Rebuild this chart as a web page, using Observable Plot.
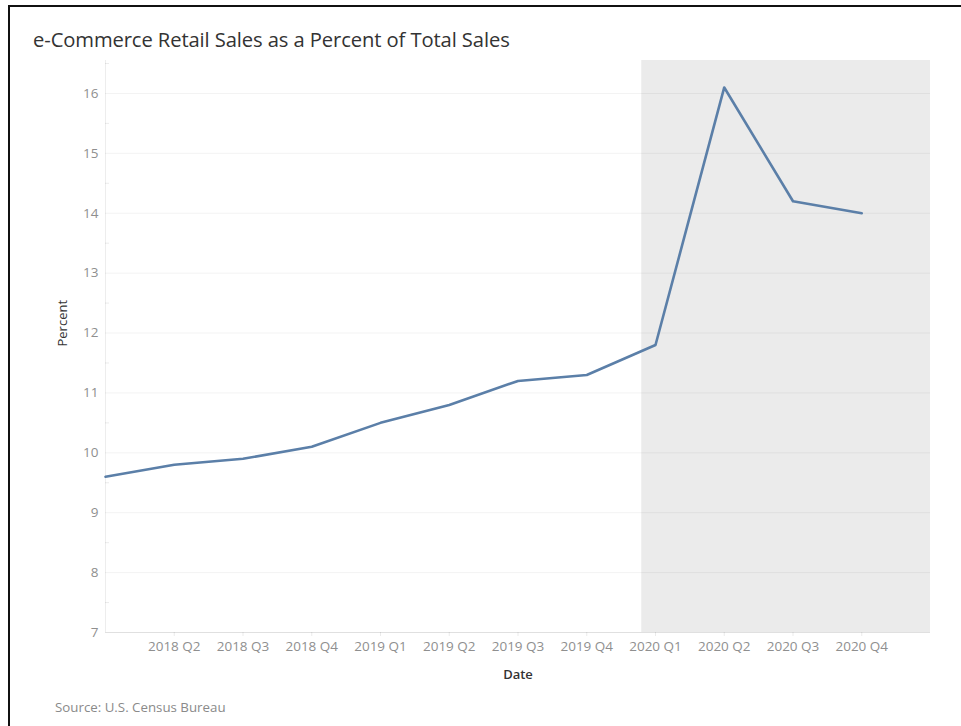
<!DOCTYPE html>
<html>
<head>
<meta charset="utf-8">
<script src="https://cdn.jsdelivr.net/npm/d3@7"></script>
<script src="https://cdn.jsdelivr.net/npm/@observablehq/plot@0.6"></script>
<style>
  html, body { margin: 0; padding: 0; background: #fff; }
  #page { position: relative; width: 961px; height: 726px; overflow: hidden; font-family: "Open Sans", Lato, sans-serif; }
  #frame { position: absolute; left: 8px; top: 5px; width: 960px; height: 730px; border-top: 2px solid #111; border-left: 2px solid #111; box-sizing: border-box; }
  #title { position: absolute; left: 33px; top: 25px; margin: 0; font-size: 20.2px; font-weight: 400; color: #333; white-space: nowrap; letter-spacing: -0.1px; }
  #chart { position: absolute; left: 0; top: 50px; }
  #source { position: absolute; left: 55px; top: 698px; font-size: 13.3px; color: #8a8a8a; }
</style>
</head>
<body>
<div id="page">
  <div id="frame"></div>
  <h2 id="title">e-Commerce Retail Sales as a Percent of Total Sales</h2>
  <div id="chart"></div>
  <div id="source">Source: U.S. Census Bureau</div>
</div>
<script>
// Quarter labels (index 0 = 2018 Q1 sits on the left edge, unlabeled in the original)
const quarters = ["2018 Q1", "2018 Q2", "2018 Q3", "2018 Q4", "2019 Q1", "2019 Q2", "2019 Q3", "2019 Q4", "2020 Q1", "2020 Q2", "2020 Q3", "2020 Q4"];
// e-Commerce share of total retail sales, percent
const percent = [9.6, 9.8, 9.9, 10.1, 10.5, 10.8, 11.2, 11.3, 11.8, 16.1, 14.2, 14.0];
// Labeled x ticks (quarter indices)
const xTickIndex = [1, 2, 3, 4, 5, 6, 7, 8, 9, 10, 11];
// Y ticks
const yTicks = [7, 8, 9, 10, 11, 12, 13, 14, 15, 16];
const yMinorTicks = [7.5, 8.5, 9.5, 10.5, 11.5, 12.5, 13.5, 14.5, 15.5, 16.5];
// Highlighted pandemic period (in quarter-index units)
const shadeStart = [7.8];
const shadeEnd = [12];

const data = quarters.map((q, i) => ({i, quarter: q, value: percent[i]}));
const shade = shadeStart.map((s, k) => ({x1: s, x2: shadeEnd[k]}));

const chart = Plot.plot({
  width: 961,
  height: 640,
  marginLeft: 105,
  marginRight: 31,
  marginTop: 10,
  marginBottom: 58,
  style: {fontFamily: "'Open Sans', Lato, sans-serif", background: "transparent"},
  x: {domain: [0, 12]},
  y: {domain: [7, 16.55]},
  marks: [
    Plot.rect(shade, {x1: "x1", x2: "x2", fill: "#ebebeb"}),
    Plot.ruleY(yTicks, {stroke: "#000", strokeOpacity: 0.05}),
    Plot.ruleX([0], {stroke: "#000", strokeOpacity: 0.07}),
    Plot.ruleY([7], {stroke: "#000", strokeOpacity: 0.07}),
    Plot.axisY({ticks: yTicks, tickSize: 0, tickPadding: 7, fontSize: 13.5, color: "#8f8f8f", label: null}),
    Plot.axisY({ticks: yMinorTicks, tickSize: -4, text: null, stroke: "#000", strokeOpacity: 0.08, label: null}),
    Plot.axisX({ticks: xTickIndex, tickFormat: d => quarters[d], tickSize: 4, tickPadding: 5, fontSize: 13.5, color: "#8f8f8f", stroke: "#000", strokeOpacity: 0.08, label: null}),
    Plot.line(data, {x: "i", y: "value", stroke: "#5b7fa8", strokeWidth: 2.6, strokeLinejoin: "round"}),
    Plot.text(["Percent"], {frameAnchor: "left", dx: -43, rotate: -90, fontSize: 13, fill: "#333", text: d => d}),
    Plot.text(["Date"], {frameAnchor: "bottom", dy: 46, fontSize: 13, fontWeight: 600, fill: "#333", text: d => d})
  ]
});
document.getElementById("chart").appendChild(chart);
</script>
</body>
</html>
